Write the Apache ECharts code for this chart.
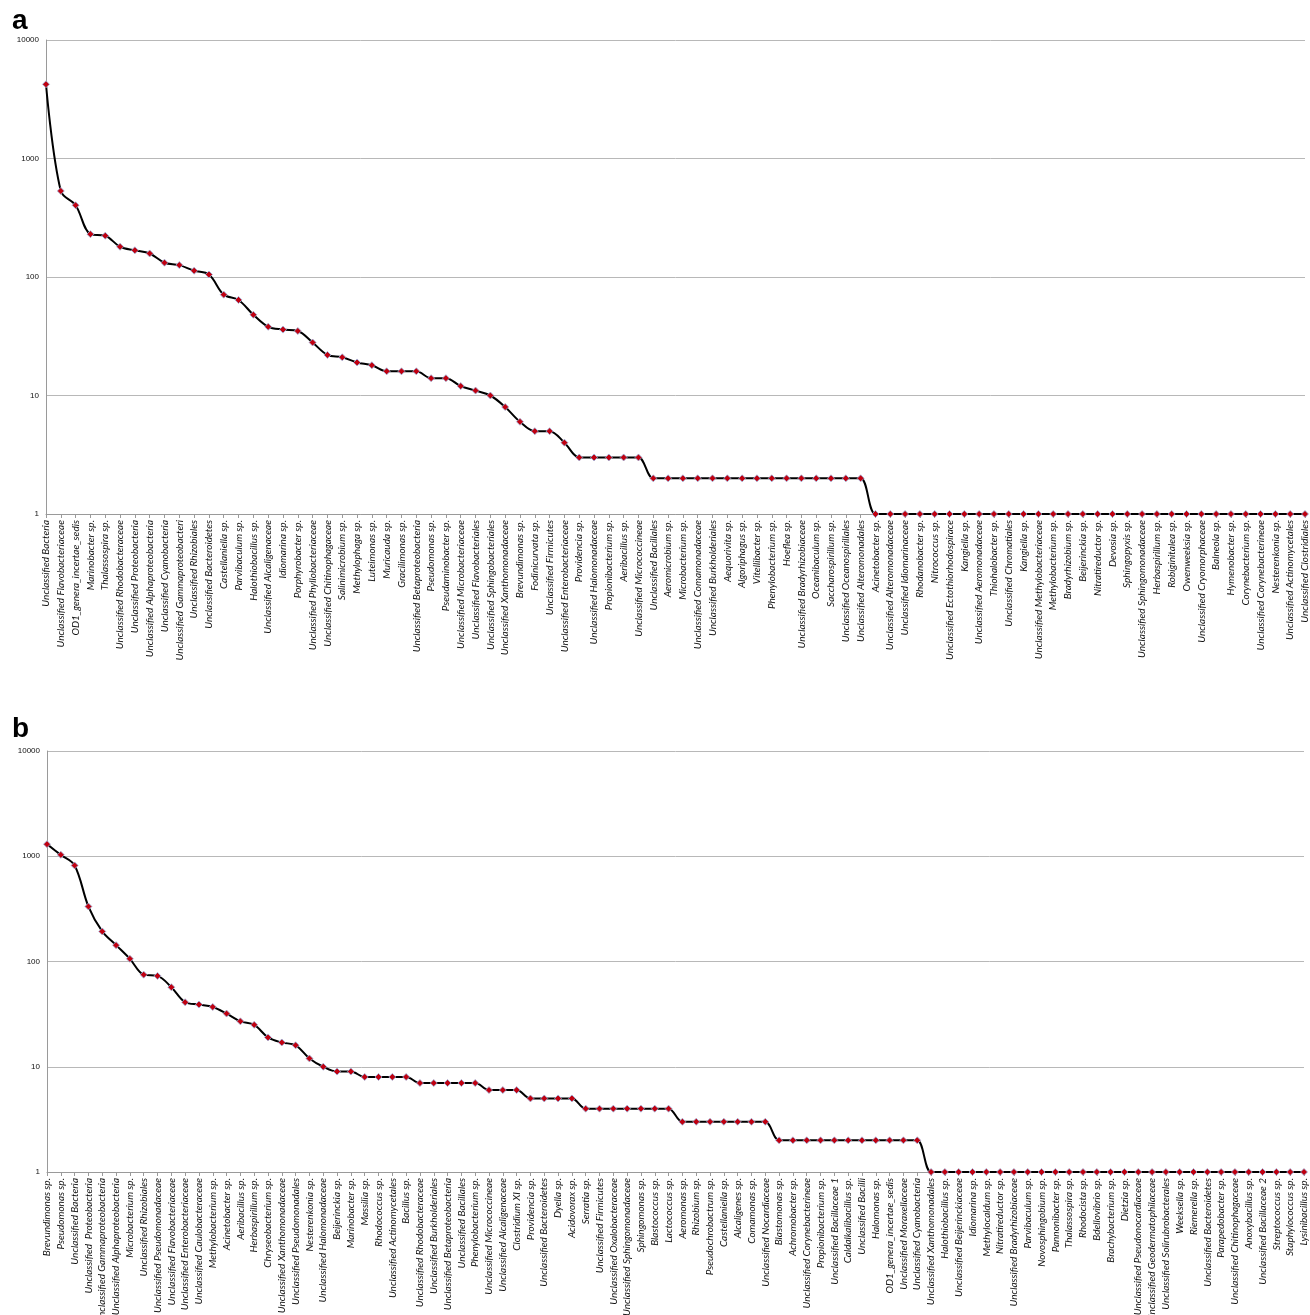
<!DOCTYPE html>
<html>
<head>
<meta charset="utf-8">
<script src="https://cdn.jsdelivr.net/npm/echarts@6/dist/echarts.min.js"></script>
<style>
  html, body { margin: 0; padding: 0; background: #fff; }
  #main { width: 1310px; height: 1315px; }
</style>
</head>
<body>
<div id="main"></div>
<script>
var chartDom = document.getElementById('main');
var myChart = echarts.init(chartDom, null, { renderer: 'canvas' });

// panel a
var catsA = [
  'Unclassified Bacteria', 'Unclassified Flavobacteriaceae', 'OD1_genera_incertae_sedis', 'Marinobacter sp.',
  'Thalassospira sp.', 'Unclassified Rhodobacteraceae', 'Unclassified Proteobacteria', 'Unclassified Alphaproteobacteria',
  'Unclassified Cyanobacteria', 'Unclassified Gammaproteobacteria', 'Unclassified Rhizobiales', 'Unclassified Bacteroidetes',
  'Castellaniella sp.', 'Parvibaculum sp.', 'Halothiobacillus sp.', 'Unclassified Alcaligenaceae',
  'Idiomarina sp.', 'Porphyrobacter sp.', 'Unclassified Phyllobacteriaceae', 'Unclassified Chitinophagaceae',
  'Salinimicrobium sp.', 'Methylophaga sp.', 'Luteimonas sp.', 'Muricauda sp.',
  'Gracilimonas sp.', 'Unclassified Betaproteobacteria', 'Pseudomonas sp.', 'Pseudaminobacter sp.',
  'Unclassified Microbacteriaceae', 'Unclassified Flavobacteriales', 'Unclassified Sphingobacteriales', 'Unclassified Xanthomonadaceae',
  'Brevundimonas sp.', 'Fodinicurvata sp.', 'Unclassified Firmicutes', 'Unclassified Enterobacteriaceae',
  'Providencia sp.', 'Unclassified Halomonadaceae', 'Propionibacterium sp.', 'Aeribacillus sp.',
  'Unclassified Micrococcineae', 'Unclassified Bacillales', 'Aeromicrobium sp.', 'Microbacterium sp.',
  'Unclassified Comamonadaceae', 'Unclassified Burkholderiales', 'Aequorivita sp.', 'Algoriphagus sp.',
  'Vitellibacter sp.', 'Phenylobacterium sp.', 'Hoeflea sp.', 'Unclassified Bradyrhizobiaceae',
  'Oceanibaculum sp.', 'Saccharospirillum sp.', 'Unclassified Oceanospirillales', 'Unclassified Alteromonadales',
  'Acinetobacter sp.', 'Unclassified Alteromonadaceae', 'Unclassified Idiomarinaceae', 'Rhodanobacter sp.',
  'Nitrococcus sp.', 'Unclassified Ectothiorhodospiraceae', 'Kangiella sp.', 'Unclassified Aeromonadaceae',
  'Thiohalobacter sp.', 'Unclassified Chromatiales', 'Kangiella sp.', 'Unclassified Methylobacteriaceae',
  'Methylobacterium sp.', 'Bradyrhizobium sp.', 'Beijerinckia sp.', 'Nitratireductor sp.',
  'Devosia sp.', 'Sphingopyxis sp.', 'Unclassified Sphingomonadaceae', 'Herbaspirillum sp.',
  'Robiginitalea sp.', 'Owenweeksia sp.', 'Unclassified Cryomorphaceae', 'Balneola sp.',
  'Hymenobacter sp.', 'Corynebacterium sp.', 'Unclassified Corynebacterineae', 'Nesterenkonia sp.',
  'Unclassified Actinomycetales', 'Unclassified Clostridiales'
];
var valuesA = [
  4230, 532, 403, 230, 223, 180, 168, 158, 132, 126, 113, 105,
  71, 64, 48, 38, 36, 35, 28, 22, 21, 19, 18, 16,
  16, 16, 14, 14, 12, 11, 10, 8, 6, 5, 5, 4,
  3, 3, 3, 3, 3, 2, 2, 2, 2, 2, 2, 2,
  2, 2, 2, 2, 2, 2, 2, 2, 1, 1, 1, 1,
  1, 1, 1, 1, 1, 1, 1, 1, 1, 1, 1, 1,
  1, 1, 1, 1, 1, 1, 1, 1, 1, 1, 1, 1,
  1, 1
];

// panel b
var catsB = [
  'Brevundimonas sp.', 'Pseudomonas sp.', 'Unclassified Bacteria', 'Unclassified  Proteobacteria',
  'Unclassified Gammaproteobacteria', 'Unclassified Alphaproteobacteria', 'Microbacterium sp.', 'Unclassified Rhizobiales',
  'Unclassified Pseudomonadaceae', 'Unclassified Flavobacteriaceae', 'Unclassified Enterobacteriaceae', 'Unclassified Caulobacteraceae',
  'Methylobacterium sp.', 'Acinetobacter sp.', 'Aeribacillus sp.', 'Herbaspirillum sp.',
  'Chryseobacterium sp.', 'Unclassified Xanthomonadaceae', 'Unclassified Pseudomonadales', 'Nesterenkonia sp.',
  'Unclassified Halomonadaceae', 'Beijerinckia sp.', 'Marinobacter sp.', 'Massilia sp.',
  'Rhodococcus sp.', 'Unclassified Actinomycetales', 'Bacillus sp.', 'Unclassified Rhodobacteraceae',
  'Unclassified Burkholderiales', 'Unclassified Betaproteobacteria', 'Unclassified Bacillales', 'Phenylobacterium sp.',
  'Unclassified Micrococcineae', 'Unclassified Alcaligenaceae', 'Clostridium XI sp.', 'Providencia sp.',
  'Unclassified Bacteroidetes', 'Dyella sp.', 'Acidovorax sp.', 'Serratia sp.',
  'Unclassified Firmicutes', 'Unclassified Oxalobacteraceae', 'Unclassified Sphingomonadaceae', 'Sphingomonas sp.',
  'Blastococcus sp.', 'Lactococcus sp.', 'Aeromonas sp.', 'Rhizobium sp.',
  'Pseudochrobactrum sp.', 'Castellaniella sp.', 'Alcaligenes sp.', 'Comamonas sp.',
  'Unclassified Nocardiaceae', 'Blastomonas sp.', 'Achromobacter sp.', 'Unclassified Corynebacterineae',
  'Propionibacterium sp.', 'Unclassified Bacillaceae 1', 'Caldalkalibacillus sp.', 'Unclassified Bacilli',
  'Halomonas sp.', 'OD1_genera_incertae_sedis', 'Unclassified Moraxellaceae', 'Unclassified Cyanobacteria',
  'Unclassified Xanthomonadales', 'Halothiobacillus sp.', 'Unclassified Beijerinckiaceae', 'Idiomarina sp.',
  'Methylocaldum sp.', 'Nitratireductor sp.', 'Unclassified Bradyrhizobiaceae', 'Parvibaculum sp.',
  'Novosphingobium sp.', 'Pannonibacter sp.', 'Thalassospira sp.', 'Rhodocista sp.',
  'Bdellovibrio sp.', 'Brachybacterium sp.', 'Dietzia sp.', 'Unclassified Pseudonocardiaceae',
  'Unclassified Geodermatophilaceae', 'Unclassified Solirubrobacterales', 'Weeksella sp.', 'Riemerella sp.',
  'Unclassified Bacteroidetes', 'Parapedobacter sp.', 'Unclassified Chitinophagaceae', 'Anoxybacillus sp.',
  'Unclassified Bacillaceae 2', 'Streptococcus sp.', 'Staphylococcus sp.', 'Lysinibacillus sp.'
];
var valuesB = [
  1303, 1031, 818, 333, 193, 143, 106, 75, 73, 57, 41, 39,
  37, 32, 27, 25, 19, 17, 16, 12, 10, 9, 9, 8,
  8, 8, 8, 7, 7, 7, 7, 7, 6, 6, 6, 5,
  5, 5, 5, 4, 4, 4, 4, 4, 4, 4, 3, 3,
  3, 3, 3, 3, 3, 2, 2, 2, 2, 2, 2, 2,
  2, 2, 2, 2, 1, 1, 1, 1, 1, 1, 1, 1,
  1, 1, 1, 1, 1, 1, 1, 1, 1, 1, 1, 1,
  1, 1, 1, 1, 1, 1, 1, 1
];

function xAxisFor(idx, cats, maxLen) {
  return {
    type: 'category',
    gridIndex: idx,
    data: cats,
    boundaryGap: false,
    axisLine: { lineStyle: { color: '#9a9a9a', width: 1 } },
    axisTick: { show: true, interval: 0, length: 4, lineStyle: { color: '#9a9a9a' } },
    axisLabel: {
      interval: 0,
      rotate: 90,
      margin: 6,
      fontSize: 10,
      fontStyle: 'italic',
      fontFamily: 'Lato',
      color: '#111',
      width: maxLen,
      overflow: 'truncate',
      ellipsis: ''
    }
  };
}

function yAxisFor(idx) {
  return {
    type: 'log',
    gridIndex: idx,
    logBase: 10,
    min: 1,
    max: 10000,
    axisLine: { show: true, lineStyle: { color: '#9a9a9a', width: 1 } },
    axisTick: { show: false },
    splitLine: { show: true, lineStyle: { color: '#b8b8b8', width: 1 } },
    axisLabel: {
      fontSize: 8,
      fontFamily: 'Liberation Sans',
      color: '#111',
      margin: 7,
      formatter: function (v) { return String(Math.round(v)); }
    }
  };
}

function seriesFor(idx, vals) {
  return {
    type: 'line',
    xAxisIndex: idx,
    yAxisIndex: idx,
    data: vals,
    smooth: 0.35,
    symbol: 'diamond',
    symbolSize: 7,
    lineStyle: { color: '#000', width: 2 },
    itemStyle: { color: '#c00010', borderColor: '#9db8e0', borderWidth: 0.8 },
    z: 3
  };
}

var option = {
  animation: false,
  backgroundColor: '#fff',
  title: [
    { text: 'a', left: 7, top: 2, textStyle: { fontSize: 28, fontWeight: 'bold', fontFamily: 'Liberation Sans', color: '#000' } },
    { text: 'b', left: 7, top: 710, textStyle: { fontSize: 28, fontWeight: 'bold', fontFamily: 'Liberation Sans', color: '#000' } }
  ],
  grid: [
    { left: 46, right: 5, top: 40, height: 474, outerBoundsMode: 'none', containLabel: false },
    { left: 47, right: 6, top: 751, height: 421, outerBoundsMode: 'none', containLabel: false }
  ],
  xAxis: [xAxisFor(0, catsA, 142), xAxisFor(1, catsB, 160)],
  yAxis: [yAxisFor(0), yAxisFor(1)],
  series: [seriesFor(0, valuesA), seriesFor(1, valuesB)]
};

option && myChart.setOption(option);
</script>
</body>
</html>
